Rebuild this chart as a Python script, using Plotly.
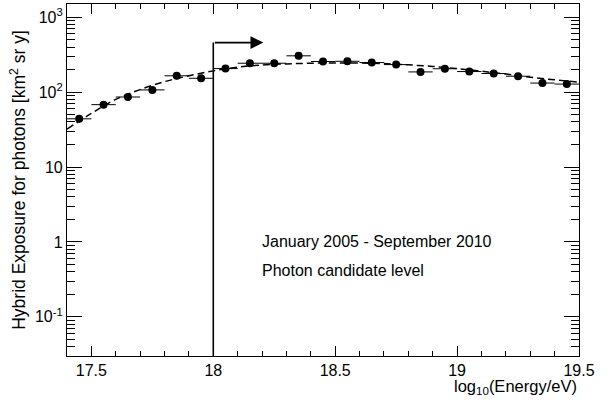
import numpy as np
import plotly.graph_objects as go

# Data: bin centers (log10 E) and hybrid exposure values
energy = [17.45, 17.55, 17.65, 17.75, 17.85, 17.95, 18.05, 18.15, 18.25, 18.35,
          18.45, 18.55, 18.65, 18.75, 18.85, 18.95, 19.05, 19.15, 19.25, 19.35, 19.45]
exposure = [44, 68, 86, 107, 165, 153, 206, 243, 243, 305,
            256, 258, 248, 233, 186, 205, 188, 177, 163, 132, 128]
exposure_err = [5, 6, 6, 7, 8, 8, 9, 9, 9, 10,
                9, 9, 9, 9, 8, 8, 8, 7, 7, 6, 6]
bin_half = [0.05] * len(energy)

# Fitted curve
fit_x = [17.4, 17.5, 17.6, 17.7, 17.8, 17.9, 18.0, 18.1, 18.2, 18.3, 18.4,
         18.5, 18.6, 18.7, 18.8, 18.9, 19.0, 19.1, 19.2, 19.3, 19.4, 19.5]
fit_y = [32, 52, 80, 108, 138, 165, 192, 215, 230, 238, 243,
         245, 244, 240, 231, 220, 206, 190, 174, 158, 146, 136]

# Threshold marker
thr_x = [18.0, 18.0]
thr_y = [0.03, 458]
arrow_end_x = 18.205

y_tickvals = [0.1, 1, 10, 100, 1000]
y_ticktext = ["10<sup>-1</sup>", "1", "10", "10<sup>2</sup>", "10<sup>3</sup>"]
x_tickvals = [17.5, 18, 18.5, 19, 19.5]
x_ticktext = ["17.5", "18", "18.5", "19", "19.5"]

y_minor = [m * 10.0 ** k for k in range(-2, 4) for m in range(2, 10)]
y_minor = [v for v in y_minor if 0.03 <= v <= 1500]
x_minor = [round(17.4 + 0.1 * i, 2) for i in range(22)]

fig = go.Figure()

fig.add_trace(go.Scatter(x=fit_x, y=fit_y, mode="lines",
                         line=dict(color="black", width=1.5, dash="7px,4px", shape="spline"),
                         showlegend=False, hoverinfo="skip"))

fig.add_trace(go.Scatter(x=thr_x, y=thr_y, mode="lines",
                         line=dict(color="black", width=1.6),
                         showlegend=False, hoverinfo="skip"))

fig.add_trace(go.Scatter(x=energy, y=exposure, mode="markers",
                         marker=dict(color="black", size=8),
                         error_x=dict(type="data", array=bin_half, color="black", thickness=1, width=0),
                         error_y=dict(type="data", array=exposure_err, color="black", thickness=1, width=0),
                         showlegend=False))

fig.add_annotation(x=arrow_end_x, y=np.log10(thr_y[1]), ax=thr_x[1], ay=np.log10(thr_y[1]),
                   xref="x", yref="y", axref="x", ayref="y", text="",
                   showarrow=True, arrowhead=2, arrowsize=1.6, arrowwidth=1.6, arrowcolor="black")

font_family = "Liberation Sans, Arial, Helvetica, sans-serif"

fig.add_annotation(x=18.19, y=np.log10(1.0), xref="x", yref="y", xanchor="left", yanchor="middle",
                   text="January 2005 - September 2010", showarrow=False,
                   font=dict(family=font_family, size=16, color="black"))
fig.add_annotation(x=18.19, y=np.log10(0.41), xref="x", yref="y", xanchor="left", yanchor="middle",
                   text="Photon candidate level", showarrow=False,
                   font=dict(family=font_family, size=16, color="black"))

fig.add_annotation(x=1.0, y=-0.122, xref="paper", yref="paper", xanchor="right", yanchor="bottom",
                   text="log<sub>10</sub>(Energy/eV)", showarrow=False,
                   font=dict(family=font_family, size=16.5, color="black"))

fig.update_xaxes(range=[17.4, 19.5], tickvals=x_tickvals, ticktext=x_ticktext,
                 ticks="inside", ticklen=10, tickwidth=1, tickcolor="black",
                 showline=True, linecolor="black", linewidth=1.2, mirror="allticks",
                 showgrid=False, zeroline=False,
                 tickfont=dict(family=font_family, size=16, color="black"),
                 minor=dict(tickvals=x_minor, ticks="inside", ticklen=5, tickcolor="black", showgrid=False))

fig.update_yaxes(type="log", range=[np.log10(0.03), np.log10(1500)],
                 tickvals=y_tickvals, ticktext=y_ticktext,
                 ticks="inside", ticklen=15, tickwidth=1, tickcolor="black",
                 showline=True, linecolor="black", linewidth=1.2, mirror="allticks",
                 showgrid=False, zeroline=False,
                 tickfont=dict(family=font_family, size=16, color="black"),
                 title=dict(text="Hybrid Exposure for photons [km<sup>2</sup> sr y]",
                            font=dict(family=font_family, size=17.5, color="black"), standoff=4),
                 minor=dict(tickvals=y_minor, ticks="inside", ticklen=8, tickcolor="black", showgrid=False))

fig.update_layout(width=613, height=401,
                  margin=dict(l=67, r=34, t=4, b=45),
                  plot_bgcolor="white", paper_bgcolor="white",
                  font=dict(family=font_family, color="black"))

fig.write_html("out.html")
